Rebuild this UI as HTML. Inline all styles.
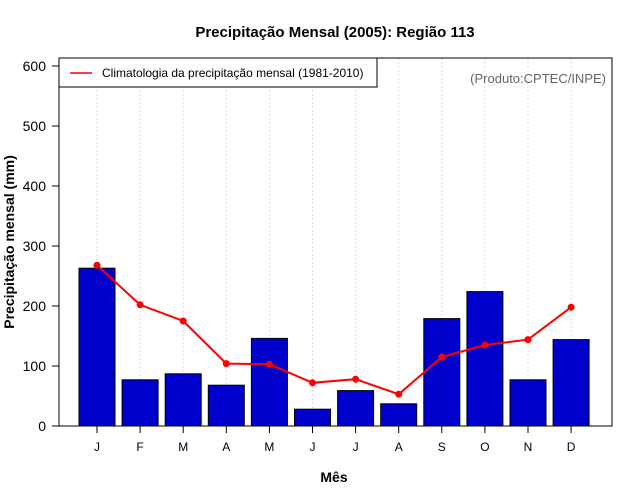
<!DOCTYPE html>
<html><head><meta charset="utf-8"><style>body{margin:0;background:#fff}svg{display:block;font-family:"Liberation Sans",sans-serif}</style></head>
<body>
<svg id="c" width="640" height="500" xmlns="http://www.w3.org/2000/svg">
<text x="335" y="37" text-anchor="middle" font-size="15" font-weight="bold">Precipitação Mensal (2005): Região 113</text>
<text x="334" y="482" text-anchor="middle" font-size="14" font-weight="bold">Mês</text>
<text transform="translate(14,242) rotate(-90)" text-anchor="middle" font-size="14" font-weight="bold">Precipitação mensal (mm)</text>
<g id="grid"></g><g id="bars"></g><g id="line"></g><g id="axes"></g>
<rect x="59" y="58" width="553" height="368" fill="none" stroke="#000"/>
<g>
<rect x="59" y="58" width="318" height="29" fill="#fff" stroke="#000"/>
<line x1="70" y1="73" x2="92" y2="73" stroke="red" stroke-width="1.5"/>
<text x="102" y="77" font-size="12">Climatologia da precipitação mensal (1981-2010)</text>
</g>
<text x="606" y="83" text-anchor="end" font-size="13" fill="#666">(Produto:CPTEC/INPE)</text>
</svg>
<script>
const months=["J","F","M","A","M","J","J","A","S","O","N","D"];
const precip=[263,77,87,68,146,28,59,37,179,224,77,144];
const clim=[268,202,175,104,103,72,78,53,115,135,144,198];
const yTicks=[0,100,200,300,400,500,600];
const NS="http://www.w3.org/2000/svg";
const x=i=>97+i*43.1, y=v=>426-v*0.6;
function mk(t,a,p){const e=document.createElementNS(NS,t);for(const k in a)e.setAttribute(k,a[k]);p.appendChild(e);return e;}
const g=document.getElementById('grid'),b=document.getElementById('bars'),l=document.getElementById('line'),ax=document.getElementById('axes');
months.forEach((m,i)=>{
 const gl=mk('line',{x1:x(i),x2:x(i),y1:58,y2:426,stroke:'#ddd','stroke-dasharray':'2,2'},g);
 
 
 const r=mk('rect',{x:x(i)-18,y:y(precip[i]),width:36,height:precip[i]*0.6,fill:'#0000cd',stroke:'#000'},b);
 
 
 const tk=mk('line',{x1:x(i),x2:x(i),y1:426,y2:433,stroke:'#000'},ax);
 
 
 const t=mk('text',{x:x(i),y:451,'text-anchor':'middle','font-size':12},ax);t.textContent=m;
 
 
});
const pl=mk('polyline',{points:clim.map((v,i)=>x(i)+','+y(v)).join(' '),fill:'none',stroke:'red','stroke-width':2},l);


clim.forEach((v,i)=>{const c=mk('circle',{cx:x(i),cy:y(v),r:3.5,fill:'red'},l);
 
 });
yTicks.forEach(v=>{
 const tk=mk('line',{x1:52,x2:59,y1:y(v),y2:y(v),stroke:'#000'},ax);
 
 
 const t=mk('text',{x:46,y:y(v)+5,'text-anchor':'end','font-size':14},ax);t.textContent=v;
 
 
});
</script>
</body></html>
